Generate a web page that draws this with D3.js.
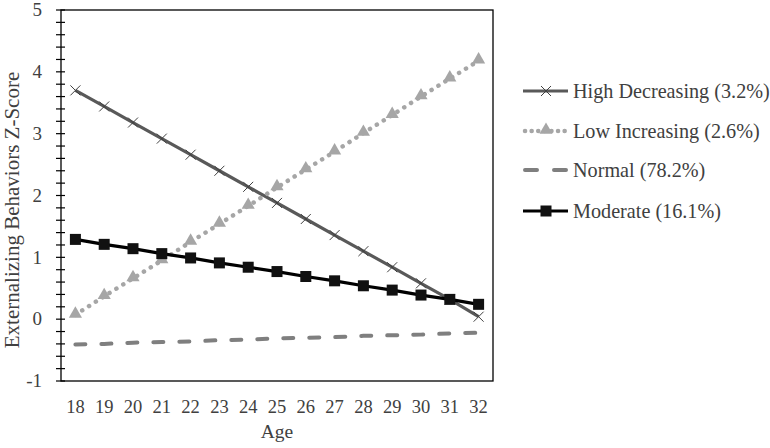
<!DOCTYPE html>
<html>
<head>
<meta charset="utf-8">
<script src="https://cdn.jsdelivr.net/npm/d3@7"></script>
<style>
body{margin:0;background:#fff;}
text{font-family:"Liberation Serif","Times New Roman",serif;}
</style>
</head>
<body>
<svg id="chart" width="770" height="448"></svg>
<script>
//数据
var ages = [18,19,20,21,22,23,24,25,26,27,28,29,30,31,32];
var highDecreasing = [3.70,3.44,3.18,2.92,2.66,2.40,2.14,1.88,1.62,1.36,1.10,0.84,0.58,0.32,0.04];
var lowIncreasing = [0.07,0.37,0.66,0.95,1.25,1.54,1.83,2.13,2.42,2.71,3.01,3.30,3.60,3.89,4.18];
var normal = [-0.41,-0.40,-0.38,-0.37,-0.36,-0.34,-0.33,-0.31,-0.30,-0.29,-0.27,-0.26,-0.25,-0.23,-0.22];
var moderate = [1.29,1.21,1.14,1.06,0.99,0.91,0.84,0.77,0.69,0.62,0.54,0.47,0.39,0.32,0.24];
var seriesNames = ["High Decreasing (3.2%)","Low Increasing (2.6%)","Normal (78.2%)","Moderate (16.1%)"];
var yTicks = [-1,0,1,2,3,4,5];

var svg = d3.select("#chart");
var padding = {top:10, right:277, bottom:67, left:61};
var width = 770, height = 448;

//比例尺
var x = d3.scalePoint().domain(ages).range([padding.left, width-padding.right]).padding(0.5);
var y = d3.scaleLinear().domain([-1,5]).range([height-padding.bottom, padding.top]);

//外框
svg.append("rect")
	.attr("x", padding.left)
	.attr("y", padding.top)
	.attr("width", width-padding.right-padding.left)
	.attr("height", height-padding.bottom-padding.top)
	.attr("fill", "none")
	.attr("stroke", "#000")
	.attr("stroke-width", 1.3);

//y轴小刻度
var minor = d3.range(-1, 5.001, 0.2);
svg.selectAll("line.ytick").data(minor).enter().append("line")
	.attr("class","ytick")
	.attr("x1", padding.left-5)
	.attr("x2", padding.left+4)
	.attr("y1", function(d){ return y(d); })
	.attr("y2", function(d){ return y(d); })
	.attr("stroke", "#000")
	.attr("stroke-width", 1.2);

svg.selectAll("text.ylab").data(yTicks).enter().append("text")
	.attr("class","ylab")
	.attr("x", 42)
	.attr("y", function(d){ return y(d); })
	.attr("dy", "0.33em")
	.style("text-anchor","end")
	.style("font-size","19px")
	.attr("fill","#404040")
	.text(function(d){ return d; });

svg.selectAll("text.xlab").data(ages).enter().append("text")
	.attr("class","xlab")
	.attr("x", function(d){ return x(d); })
	.attr("y", 413)
	.style("text-anchor","middle")
	.style("font-size","18.5px")
	.attr("fill","#404040")
	.text(function(d){ return d; });

svg.append("text")
	.attr("x", (padding.left + width-padding.right)/2)
	.attr("y", 438)
	.style("text-anchor","middle")
	.style("font-size","19.5px")
	.attr("fill","#404040")
	.text("Age");

svg.append("text")
	.attr("transform", "translate(19,210) rotate(-90)")
	.style("text-anchor","middle")
	.style("font-size","21px")
	.attr("fill","#404040")
	.text("Externalizing Behaviors Z-Score");

//线
var line = d3.line()
	.x(function(d, i){ return x(ages[i]); })
	.y(function(d){ return y(d); });

var styles = [
	{data: highDecreasing, color:"#595959", dash:null, cap:"butt", w:3.2, marker:"x"},
	{data: lowIncreasing, color:"#a6a6a6", dash:"0.1,8", cap:"round", w:4.5, marker:"tri"},
	{data: normal, color:"#7f7f7f", dash:"10,16", cap:"round", w:4, marker:null},
	{data: moderate, color:"#000", dash:null, cap:"butt", w:3.2, marker:"sq"}
];

function drawMarker(g, type, cx, cy){
	if(type=="x"){
		g.append("path")
			.attr("d", "M"+(cx-5)+","+(cy-5)+"L"+(cx+5)+","+(cy+5)+"M"+(cx-5)+","+(cy+5)+"L"+(cx+5)+","+(cy-5))
			.attr("stroke","#404040").attr("stroke-width",1);
	} else if(type=="tri"){
		g.append("path")
			.attr("d", d3.symbol().type(d3.symbolTriangle).size(75)())
			.attr("transform","translate("+cx+","+(cy-1)+")")
			.attr("fill","#a6a6a6");
	} else if(type=="sq"){
		g.append("rect")
			.attr("x", cx-5.5).attr("y", cy-5.5)
			.attr("width", 11).attr("height", 11)
			.attr("fill","#111");
	}
}

styles.forEach(function(s, k){
	svg.append("path")
		.attr("d", line(s.data))
		.attr("fill","none")
		.attr("stroke", s.color)
		.attr("stroke-width", s.w)
		.attr("stroke-linecap", s.cap)
		.attr("stroke-dasharray", s.dash);
	if(s.marker){
		var g = svg.append("g");
		s.data.forEach(function(d, i){
			drawMarker(g, s.marker, x(ages[i]), y(d));
		});
	}
});

//图例
var legendY = [91, 131, 170, 211];
styles.forEach(function(s, k){
	var g = svg.append("g");
	g.append("line")
		.attr("x1", k==1 ? 525 : (k==2 ? 525 : 523)).attr("x2", k==2 ? 566 : 568)
		.attr("y1", legendY[k]).attr("y2", legendY[k])
		.attr("stroke", s.color)
		.attr("stroke-width", s.w)
		.attr("stroke-linecap", s.cap)
		.attr("stroke-dasharray", k==2 ? "12,17" : (k==1 ? "0.1,6.5" : s.dash));
	if(s.marker) drawMarker(g, s.marker, 546, legendY[k]);
	g.append("text")
		.attr("x", 573)
		.attr("y", legendY[k])
		.attr("dy","0.33em")
		.style("font-size","20.2px")
		.attr("fill","#404040")
		.text(seriesNames[k]);
});
</script>
</body>
</html>
